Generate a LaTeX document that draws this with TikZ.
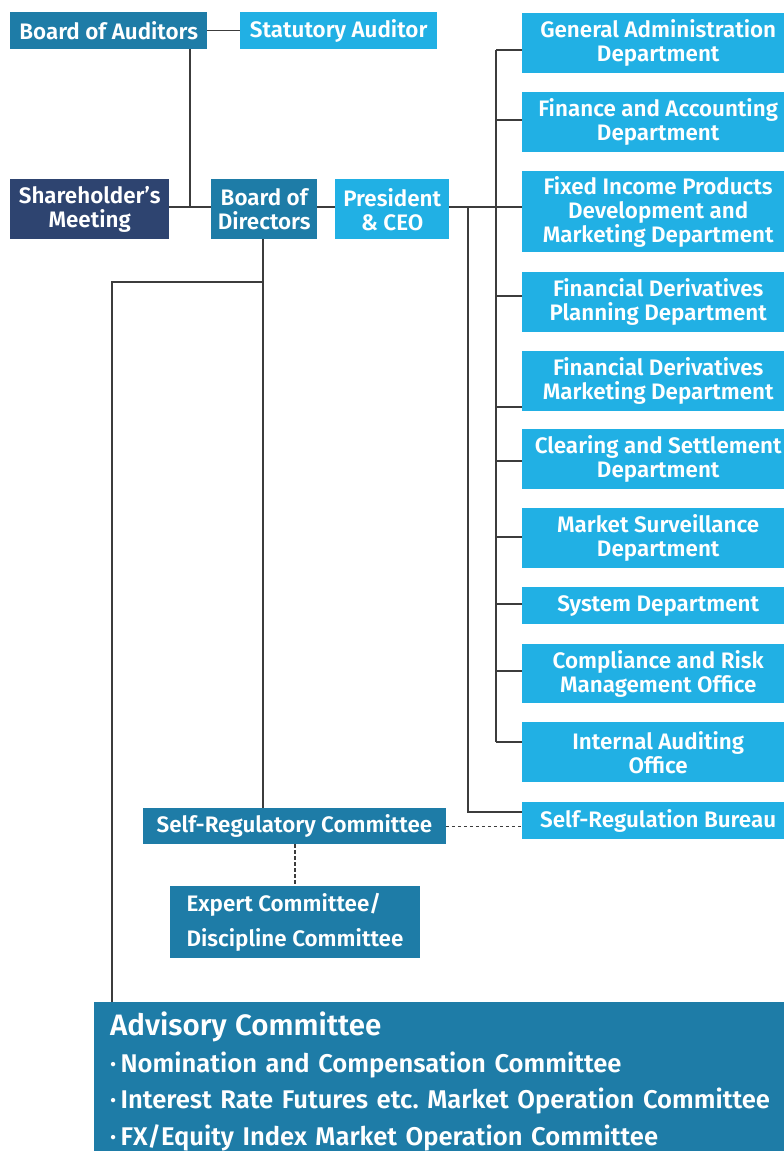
\documentclass[tikz,border=0pt]{standalone}
\usepackage{fontspec}
\setmainfont{Fira Sans SemiBold}
\frenchspacing
\definecolor{orgnavy}{HTML}{2E4470}
\definecolor{orgteal}{HTML}{1E7CA7}
\definecolor{orgcyan}{HTML}{21B0E4}
\definecolor{orgline}{HTML}{3C3C3C}
\tikzset{
    box/.style={anchor=north west, inner sep=0pt, text=white, align=center, font=\fontsize{22.4}{24}\selectfont},
    navybox/.style={box, fill=orgnavy},
    tealbox/.style={box, fill=orgteal},
    cyanbox/.style={box, fill=orgcyan},
    deptbox/.style={cyanbox, minimum width=272pt},
    link/.style={draw=orgline, line width=1.4pt},
    dotlink/.style={draw=orgline, line width=1.4pt, dash pattern=on 3.5pt off 2.5pt}
}
\begin{document}
\begin{tikzpicture}[x=1pt,y=-1pt]
        \useasboundingbox (0,0) rectangle (784,1151);
        \node[tealbox, minimum width=197pt, minimum height=37pt] (boa) at (10,12) {Board of Auditors};
        \node[cyanbox, minimum width=197pt, minimum height=37pt] (stat) at (240,12) {Statutory Auditor};
        \node[navybox, minimum width=159pt, minimum height=60pt] (share) at (10,179) {Shareholder’s\\Meeting};
        \node[tealbox, minimum width=106pt, minimum height=60pt] (bod) at (211,179) {Board of\\Directors};
        \node[cyanbox, minimum width=114pt, minimum height=60pt] (pres) at (335,179) {President\\\& CEO};
        \node[deptbox, minimum height=60pt] (gad) at (522,12.7) {General Administration\\Department};
        \node[deptbox, minimum height=60pt] (fin) at (522,92) {Finance and Accounting\\Department};
        \node[deptbox, minimum height=81pt] (fix) at (522,171) {Fixed Income Products\\Development and\\Marketing Department};
        \node[deptbox, minimum height=60pt] (fdp) at (522,272) {Financial Derivatives\\Planning Department};
        \node[deptbox, minimum height=60pt] (fdm) at (522,351) {Financial Derivatives\\Marketing Department};
        \node[deptbox, minimum height=60pt] (clr) at (522,429) {Clearing and Settlement\\Department};
        \node[deptbox, minimum height=60pt] (mks) at (522,508) {Market Surveillance\\Department};
        \node[deptbox, minimum height=37pt] (sys) at (522,587) {System Department};
        \node[deptbox, minimum height=59pt] (crm) at (522,644) {Compliance and Risk\\Management Office};
        \node[deptbox, minimum height=60pt] (iao) at (522,722) {Internal Auditing\\Office};
        \node[deptbox, minimum height=37pt] (srb) at (522,802) {Self-Regulation Bureau};
        \node[tealbox, minimum width=302.5pt, minimum height=36pt] (src) at (143,808) {Self-Regulatory Committee};
        \node[tealbox, minimum width=249.5pt, minimum height=72.5pt, align=left, font=\fontsize{22.4}{35}\selectfont] (exp) at (170,885.5) {Expert Committee/\\Discipline Committee};
        \node[tealbox, inner xsep=16pt, text width=720pt, minimum height=159pt, align=left, font=\fontsize{25.6}{36.5}\selectfont] (adv) at (94,1002) {{\fontsize{29.5}{36.5}\selectfont Advisory Committee}\\·\,Nomination and Compensation Committee\\·\,Interest Rate Futures etc. Market Operation Committee\\·\,FX/Equity Index Market Operation Committee};
        \coordinate (aud) at (190,207);
        \coordinate (cut) at (468,207);
        \coordinate (bus) at (496,207);
        \coordinate (reg) at (263,282);
        \draw[link] (boa) -- (stat);
        \draw[link] (boa.south -| aud) -- (aud);
        \draw[link] (share.east |- aud) -- (bod.west |- aud);
        \draw[link] (bod.east |- aud) -- (pres.west |- aud);
        \draw[link] (pres.east |- aud) -- (fix.west |- aud);
        \draw[link] (bus |- 0,50) -- (bus |- 0,742);
        \foreach \n/\y in {gad/50,fin/120,fdp/296,fdm/407,clr/461,mks/537,sys/604,crm/671,iao/742}
                \draw[link] (bus |- 0,\y) -- (\n.west |- 0,\y);
        \draw[link] (cut) |- (srb.west |- 0,812);
        \draw[link] (bod.south -| reg) -- (src.north -| reg);
        \draw[link] (reg) -| (adv.north -| 112,0);
        \draw[dotlink] (src.east) -- (srb.west |- src.east);
        \draw[dotlink] (src.south -| 295,0) -- (exp.north -| 295,0);
\end{tikzpicture}
\end{document}
